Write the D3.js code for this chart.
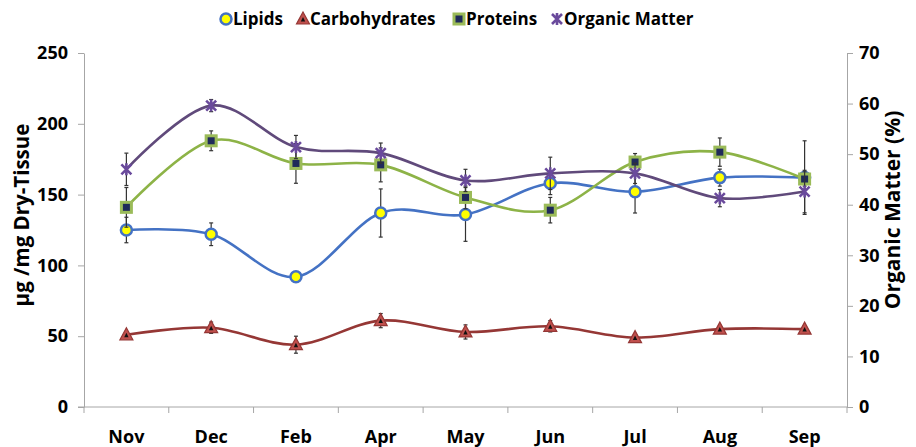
<!DOCTYPE html>
<html>
<head>
<meta charset="utf-8">
<script src="https://cdn.jsdelivr.net/npm/d3@7"></script>
<style>
  body { margin: 0; background: #fff; }
  svg { font-family: "Open Sans", "Liberation Sans", sans-serif; font-weight: bold; }
</style>
</head>
<body>
<svg id="chart" width="916" height="447"></svg>
<script>
// months on the x axis
const months = ['Nov', 'Dec', 'Feb', 'Apr', 'May', 'Jun', 'Jul', 'Aug', 'Sep'];

// left axis series (µg/mg dry tissue)
const lipids = [125, 122, 92, 137, 136, 158, 152, 162, 162];
const lipidsErr = [9, 8, 2, 17, 19, 8, 15, 6, 26];
const carbs = [51, 56, 44, 61, 53, 57, 49, 55, 55];
const carbsErr = [2, 4, 6, 5, 5, 4, 2, 2, 1];
const proteins = [141, 188, 172, 171, 148, 139, 173, 180, 161];
const proteinsErr = [14, 7, 14, 12, 8, 9, 6, 10, 5];

// right axis series (%)
const organic = [47.0, 59.6, 51.4, 50.2, 44.8, 46.2, 46.2, 41.3, 42.6];
const organicErr = [3.2, 1.2, 2.3, 2.0, 2.2, 3.2, 2.0, 1.7, 4.2];

const leftTicks = [0, 50, 100, 150, 200, 250];
const rightTicks = [0, 10, 20, 30, 40, 50, 60, 70];

const svg = d3.select('#chart');
const plotL = 84, plotR = 847, plotT = 53, plotB = 407;
const axisColor = '#a6a6a6';

const x = d3.scaleBand().domain(months).range([plotL, plotR]);
const cx = d => x(d) + x.bandwidth() / 2;
const y = d3.scaleLinear().domain([0, 250]).range([plotB, plotT]);
const y2 = d3.scaleLinear().domain([0, 70]).range([plotB, plotT]);

// axes
const gl = svg.append('g').attr('transform', `translate(${plotL},0)`)
    .call(d3.axisLeft(y).tickValues(leftTicks).tickSize(6).tickSizeOuter(0).tickPadding(10));
const gr = svg.append('g').attr('transform', `translate(${plotR},0)`)
    .call(d3.axisRight(y2).tickValues(rightTicks).tickSize(6).tickSizeOuter(0).tickPadding(6));
const gb = svg.append('g').attr('transform', `translate(0,${plotB})`)
    .call(d3.axisBottom(x).tickSize(0).tickPadding(23));
gb.select('.domain').remove();

[gl, gr].forEach(g => {
    g.selectAll('path, line').attr('stroke', axisColor);
    g.selectAll('text').attr('font-size', 18).attr('fill', '#000');
});
gb.selectAll('text').attr('font-size', 18).attr('fill', '#000');
svg.selectAll('g').filter(function () { return this.getAttribute('font-family'); })
    .attr('font-family', null);

// horizontal axis line with band boundary ticks
svg.append('line').attr('x1', plotL - 6).attr('x2', plotR).attr('y1', plotB).attr('y2', plotB)
    .attr('stroke', axisColor);
svg.selectAll('.btick').data(months.concat(['end'])).enter().append('line')
    .attr('x1', d => d === 'end' ? plotR : x(d)).attr('x2', d => d === 'end' ? plotR : x(d))
    .attr('y1', plotB).attr('y2', plotB + 6).attr('stroke', axisColor);

// axis titles
svg.append('text').attr('transform', 'translate(29,215) rotate(-90)')
    .attr('text-anchor', 'middle').attr('font-size', 20.5).text('µg /mg Dry-Tissue');
svg.append('text').attr('transform', 'translate(900,210) rotate(-90)')
    .attr('text-anchor', 'middle').attr('font-size', 21).text('Organic Matter (%)');

const line = (vals, sc) => d3.line()
    .x((d, i) => cx(months[i]))
    .y(d => sc(d))
    .curve(d3.curveCatmullRom.alpha(0))(vals);

function errorBars(vals, errs, sc) {
    const g = svg.append('g').attr('stroke', '#333').attr('stroke-width', 1.2);
    vals.forEach((v, i) => {
        const px = cx(months[i]);
        const y1 = sc(v - errs[i]), y2v = sc(v + errs[i]);
        g.append('line').attr('x1', px).attr('x2', px).attr('y1', y1).attr('y2', y2v);
        g.append('line').attr('x1', px - 2).attr('x2', px + 2).attr('y1', y1).attr('y2', y1);
        g.append('line').attr('x1', px - 2).attr('x2', px + 2).attr('y1', y2v).attr('y2', y2v);
    });
}

// marker drawers
function circleMark(g, px, py) {
    g.append('circle').attr('cx', px).attr('cy', py).attr('r', 5.5)
        .attr('fill', '#ffff00').attr('stroke', '#4472c4').attr('stroke-width', 2.5);
}
function triMark(g, px, py) {
    g.append('path').attr('transform', `translate(${px},${py})`)
        .attr('d', 'M0,-7L6.5,5L-6.5,5Z').attr('fill', '#c0504d').attr('stroke', '#953735').attr('stroke-width', 1.2);
    g.append('path').attr('transform', `translate(${px},${py})`)
        .attr('d', 'M0,-2L2.2,2.5L-2.2,2.5Z').attr('fill', '#111');
}
function squareMark(g, px, py) {
    g.append('rect').attr('x', px - 6.5).attr('y', py - 6.5).attr('width', 13).attr('height', 13)
        .attr('fill', '#9bbb59');
    g.append('rect').attr('x', px - 3.5).attr('y', py - 3.5).attr('width', 7).attr('height', 7)
        .attr('fill', '#1f2a5a');
}
function starMark(g, px, py) {
    g.append('path').attr('transform', `translate(${px},${py})`)
        .attr('d', 'M-5,-5L5,5M-5,5L5,-5M0,-6L0,6')
        .attr('stroke', '#6a4a9c').attr('stroke-width', 2.6).attr('fill', 'none');
}

const series = [
    { vals: lipids, errs: lipidsErr, sc: y, color: '#4472c4', mark: circleMark },
    { vals: carbs, errs: carbsErr, sc: y, color: '#953735', mark: triMark },
    { vals: proteins, errs: proteinsErr, sc: y, color: '#8db347', mark: squareMark },
    { vals: organic, errs: organicErr, sc: y2, color: '#604a7b', mark: starMark }
];

series.forEach(s => {
    errorBars(s.vals, s.errs, s.sc);
    svg.append('path').attr('d', line(s.vals, s.sc)).attr('fill', 'none')
        .attr('stroke', s.color).attr('stroke-width', 2.6);
    const g = svg.append('g');
    s.vals.forEach((v, i) => s.mark(g, cx(months[i]), s.sc(v)));
});

// legend
const legend = [
    { name: 'Lipids', mx: 226, mark: circleMark },
    { name: 'Carbohydrates', mx: 303, mark: triMark },
    { name: 'Proteins', mx: 459, mark: squareMark },
    { name: 'Organic Matter', mx: 557, mark: starMark }
];
const lg = svg.append('g');
legend.forEach(l => {
    l.mark(lg, l.mx, 19);
    lg.append('text').attr('x', l.mx + 7).attr('y', 25).attr('font-size', 17).text(l.name);
});
</script>
</body>
</html>
